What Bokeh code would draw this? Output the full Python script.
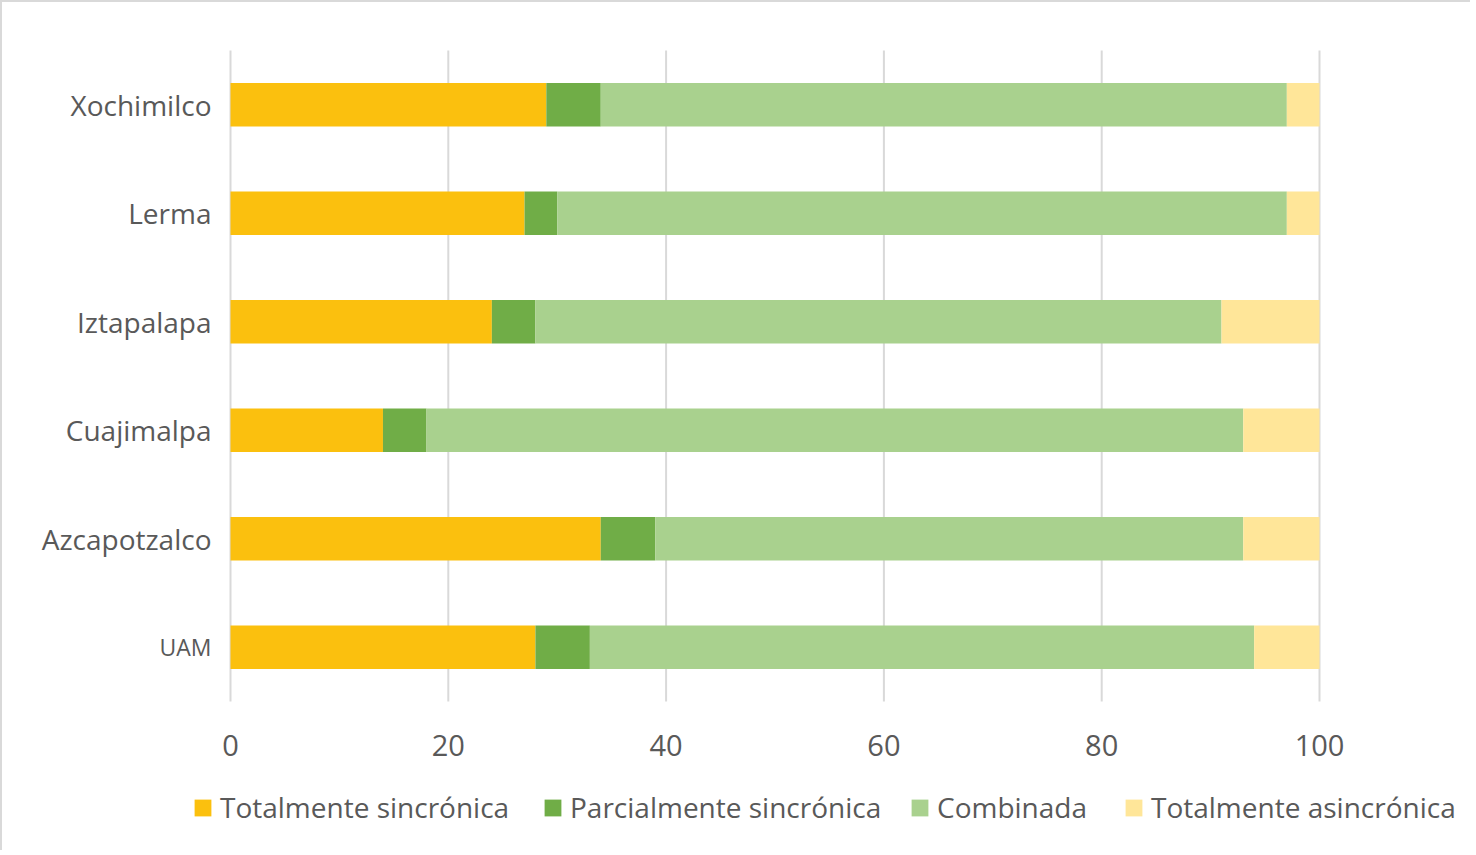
from bokeh.plotting import figure
from bokeh.models import ColumnDataSource, Legend, LegendItem, Range1d
from bokeh.core.properties import value
from bokeh.embed import file_html
from bokeh.resources import INLINE

categories = ["UAM", "Azcapotzalco", "Cuajimalpa", "Iztapalapa", "Lerma", "Xochimilco"]
label_sizes = ["23px", "28px", "28px", "28px", "28px", "28px"]
series_names = ["Totalmente sincrónica", "Parcialmente sincrónica", "Combinada", "Totalmente asincrónica"]
tot_sinc = [28, 34, 14, 24, 27, 29]
parc_sinc = [5, 5, 4, 4, 3, 5]
combinada = [61, 54, 75, 63, 67, 63]
tot_asinc = [6, 7, 7, 9, 3, 3]
colors = ["#FBC00E", "#70AD47", "#A9D18E", "#FFE699"]
x_ticks = [0, 20, 40, 60, 80, 100]

FONT = "Open Sans"
GRAY = "#595959"

# layout constants (pixels)
W, H = 1470, 850
LEFT, PLOT_W = 228, 1089      # data x 0..100 spans PLOT_W px starting LEFT px from the left
TOP, PLOT_H = 48, 651         # category band spans PLOT_H px starting TOP px from the top
ppx = PLOT_W / 100.0
ppy = PLOT_H / len(categories)

x_range = Range1d(-LEFT / ppx, (W - LEFT) / ppx)
y_range = Range1d(len(categories) - (H - TOP) / ppy, len(categories) + TOP / ppy)

p = figure(width=W, height=H, x_range=x_range, y_range=y_range, output_backend="svg",
           toolbar_location=None, x_axis_location=None, y_axis_location=None,
           min_border=0)
p.styles = {"border-top": "2px solid #d9d9d9", "border-left": "2px solid #d9d9d9"}
p.outline_line_color = None
p.grid.visible = False

ypos = [i + 0.5 for i in range(len(categories))]

# gridlines
p.segment(x0=x_ticks, x1=x_ticks, y0=[0] * len(x_ticks), y1=[len(categories)] * len(x_ticks),
          line_color="#d9d9d9", line_width=2)

keys = ["s1", "s2", "s3", "s4"]
src = ColumnDataSource(dict(y=ypos, s1=tot_sinc, s2=parc_sinc, s3=combinada, s4=tot_asinc))
renderers = p.hbar_stack(keys, y="y", height=0.4, color=colors, source=src, line_color=None)

# x tick labels
p.text(x=x_ticks, y=[0] * len(x_ticks), text=[str(t) for t in x_ticks], y_offset=44,
       text_align="center", text_baseline="middle", text_font=value(FONT),
       text_font_size="29px", text_color=GRAY)

# category labels
lab = ColumnDataSource(dict(x=[0] * len(categories), y=ypos, t=categories, size=label_sizes))
p.text(x="x", y="y", text="t", source=lab, x_offset=-19, text_align="right",
       text_baseline="middle", text_font=value(FONT), text_font_size="size", text_color=GRAY)

# legends, one per entry so each sits where the reference has it
leg_x = [190, 540, 907, 1121]
for n, r, lx in zip(series_names, renderers, leg_x):
    lg = Legend(items=[LegendItem(label=n, renderers=[r])], location=(lx, 26),
                border_line_color=None, background_fill_alpha=0, label_text_font=FONT,
                label_text_font_size="28px", label_text_color=GRAY,
                glyph_width=21, glyph_height=21, padding=0, margin=0, label_standoff=7)
    p.add_layout(lg, "center")

open("out.html", "w").write(file_html(p, INLINE))
